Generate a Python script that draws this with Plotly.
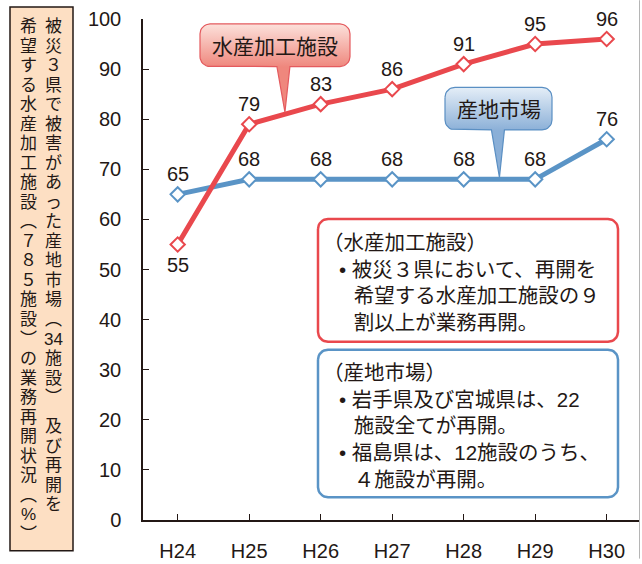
import numpy as np
import plotly.graph_objects as go

# ---- data -------------------------------------------------------------
years = ["H24", "H25", "H26", "H27", "H28", "H29", "H30"]
processing = [55, 79, 83, 86, 91, 95, 96]   # 水産加工施設 (%)
market = [65, 68, 68, 68, 68, 68, 76]       # 産地市場 (%)
y_ticks = [0, 10, 20, 30, 40, 50, 60, 70, 80, 90, 100]

processing_name = "水産加工施設"
market_name = "産地市場"

# value labels sit above each point, except where marked "below"
processing_label_side = ["below", "above", "above", "above", "above", "above", "above"]
market_label_side = ["above"] * 7

# vertical axis caption, read top-to-bottom, right column first
caption_right = ["被", "災", "３", "県", "で", "被", "害", "が", "あ", "っ", "た",
                 "産", "地", "市", "場", "︵", "34", "施", "設", "︶",
                 "及", "び", "再", "開", "を"]
caption_left = ["希", "望", "す", "る", "水", "産", "加", "工", "施", "設",
                "︵", "７", "８", "５", "施", "設", "︶",
                "の", "業", "務", "再", "開", "状", "況", "︵", "%", "︶"]

# note lines: "h" header, "b" bulleted line, "c" continuation line
note_processing = [("h", "（水産加工施設）"),
                   ("b", "被災３県において、再開を"),
                   ("c", "希望する水産加工施設の９"),
                   ("c", "割以上が業務再開。")]
note_market = [("h", "（産地市場）"),
               ("b", "岩手県及び宮城県は、22"),
               ("c", "施設全てが再開。"),
               ("b", "福島県は、12施設のうち、"),
               ("c", "４施設が再開。")]

# ---- styling ----------------------------------------------------------
RED = "#E9484D"
BLUE = "#5A94C6"
INK = "#231815"
LATIN = "Liberation Sans, Arial, sans-serif"
MIXED = "Liberation Sans, Noto Sans CJK JP, sans-serif"

W, H = 642, 564
L, R, T, B = 143, 640, 19, 525          # plot area in pixels
XR = [-0.485, 6.466]
YR = [0, 100]


def px_x(i):
    return L + (i - XR[0]) / (XR[1] - XR[0]) * (R - L)


def px_y(v):
    return B - (v - YR[0]) / (YR[1] - YR[0]) * (B - T)


def paper_x(p):
    return (p - L) / (R - L)


def paper_y(p):
    return (B - p) / (B - T)


def rounded_outline(x0, y0, x1, y1, r, pointer=None):
    """Rounded rectangle (pixel coords, y down), optional pointer on the bottom edge."""
    pts = []

    def arc(cx, cy, a0, a1):
        for t in np.linspace(a0, a1, 9):
            pts.append((cx + r * np.cos(t), cy + r * np.sin(t)))

    arc(x0 + r, y0 + r, np.pi, 1.5 * np.pi)
    arc(x1 - r, y0 + r, 1.5 * np.pi, 2 * np.pi)
    arc(x1 - r, y1 - r, 0, 0.5 * np.pi)
    if pointer is not None:
        a, b, tip = pointer
        pts += [(b, y1), tip, (a, y1)]
    arc(x0 + r, y1 - r, 0.5 * np.pi, np.pi)
    pts.append(pts[0])
    xs, ys = zip(*pts)
    return list(xs), list(ys)


fig = go.Figure()

# ---- data series ------------------------------------------------------
for name, values, color, sides in ((market_name, market, BLUE, market_label_side),
                                   (processing_name, processing, RED, processing_label_side)):
    fig.add_trace(go.Scatter(
        x=years, y=values, name=name, mode="lines+markers",
        line=dict(color=color, width=5),
        marker=dict(symbol="diamond", size=11, color="white", line=dict(color=color, width=2)),
        cliponaxis=False, showlegend=False, hoverinfo="skip"))
    for yr, v, side in zip(years, values, sides):
        fig.add_annotation(x=yr, y=v, xref="x", yref="y", text=str(v), showarrow=False,
                           yshift=20 if side == "above" else -21,
                           font=dict(family=LATIN, size=20, color=INK))

# ---- callout labels pointing at the lines ------------------------------
def add_callout(box, tip_idx, series, label, top_col, bot_col, edge):
    x0, y0, x1, y1 = box
    i0, i1 = tip_idx
    tx = (px_x(i0) + px_x(i1)) / 2
    ty = (px_y(series[i0]) + px_y(series[i1])) / 2 - 2
    xs, ys = rounded_outline(x0, y0, x1, y1, 10, pointer=(tx - 8, tx + 5, (tx, ty)))
    fig.add_trace(go.Scatter(
        x=xs, y=ys, xaxis="x2", yaxis="y2", mode="lines", fill="toself",
        fillgradient=dict(type="vertical", start=y0, stop=y1,
                          colorscale=[[0, top_col], [1, bot_col]]),
        line=dict(color=edge, width=1.2), showlegend=False, hoverinfo="skip"))
    fig.add_annotation(x=(x0 + x1) / 2, y=(y0 + y1) / 2 + 1, xref="x2", yref="y2",
                       text=label, showarrow=False,
                       font=dict(family=MIXED, size=21, color=INK))


add_callout((200, 24, 350, 67), (1, 2), processing, processing_name,
            "#FCE1DB", "#EF877D", "#E45A5E")
add_callout((445, 88, 552, 131), (4, 5), market, market_name,
            "#E3EDF7", "#8AAFD7", "#5A8FC3")

# ---- note boxes ---------------------------------------------------------
NOTE_SIZE = 20.5
NBSP, ENSP, EMSP = "\u00a0", "\u2002", "\u2003"
PREFIX = {"h": "", "b": ENSP + NBSP + "•" + NBSP, "c": EMSP + ENSP}


def add_note(box, lines, first_y, edge):
    x0, y0, x1, y1 = box
    xs, ys = rounded_outline(x0, y0, x1, y1, 10)
    fig.add_trace(go.Scatter(
        x=xs, y=ys, xaxis="x2", yaxis="y2", mode="lines", fill="toself",
        fillcolor="white", line=dict(color=edge, width=2.5),
        showlegend=False, hoverinfo="skip"))
    text = "<br>".join(PREFIX[kind] + s for kind, s in lines)
    mid = first_y + (len(lines) - 1) / 2 * 1.3 * NOTE_SIZE
    fig.add_annotation(x=322, y=mid, xref="x2", yref="y2", text=text,
                       showarrow=False, xanchor="left", yanchor="middle", align="left",
                       borderpad=0, font=dict(family=MIXED, size=NOTE_SIZE, color=INK))


add_note((318, 221, 618, 345), note_processing, 245, RED)
add_note((318, 353, 618, 502), note_market, 377, BLUE)

# ---- vertical caption box on the left -----------------------------------
fig.add_shape(type="rect", xref="paper", yref="paper",
              x0=paper_x(10), x1=paper_x(73), y0=paper_y(556), y1=paper_y(7),
              fillcolor="#FDDFC3", line=dict(color=INK, width=1.5), layer="below")

# one annotation per character, stacked top to bottom
step = 19.7
for col_x, chars, gap_after in ((53, caption_right, 19), (28, caption_left, None)):
    for k, ch in enumerate(chars):
        yc = 27 + k * step
        if gap_after is not None and k > gap_after:
            yc += 10
        fig.add_annotation(x=paper_x(col_x), y=paper_y(yc), xref="paper", yref="paper",
                           text=ch, showarrow=False, xanchor="center", yanchor="middle",
                           borderpad=0, font=dict(family=MIXED, size=17, color=INK))

# thin page edge on the right
fig.add_shape(type="line", xref="paper", yref="paper",
              x0=paper_x(639.5), x1=paper_x(639.5), y0=paper_y(H), y1=paper_y(0),
              line=dict(color="#B5B5B5", width=1))

# ---- layout -------------------------------------------------------------
fig.update_layout(
    width=W, height=H,
    margin=dict(l=L, r=W - R, t=T, b=H - B),
    paper_bgcolor="white", plot_bgcolor="white",
    xaxis=dict(type="category", categoryarray=years, range=XR,
               showline=True, linecolor=INK, linewidth=1.5,
               ticks="inside", ticklen=6, tickwidth=1.2, tickcolor=INK,
               showgrid=False, zeroline=False, ticklabelstandoff=12,
               tickfont=dict(family=LATIN, size=20, color=INK)),
    yaxis=dict(range=YR, tickvals=y_ticks,
               showline=True, linecolor=INK, linewidth=1.5,
               ticks="inside", ticklen=6, tickwidth=1.2, tickcolor=INK,
               showgrid=False, zeroline=False, ticklabelstandoff=16,
               tickfont=dict(family=LATIN, size=20, color=INK)),
    xaxis2=dict(overlaying="x", range=[L, R], visible=False),
    yaxis2=dict(overlaying="y", range=[B, T], visible=False),
)

fig.write_html("out.html")
